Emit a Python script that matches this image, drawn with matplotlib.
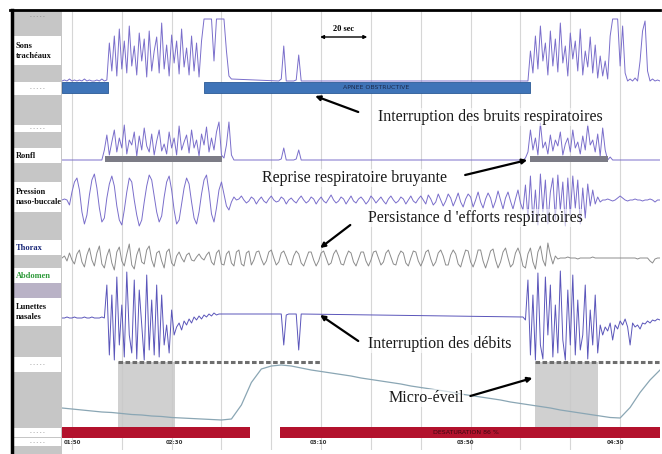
import numpy as np
import matplotlib.pyplot as plt
from matplotlib.lines import Line2D

# one sample per second, time in s ; amplitudes in screen units (up = positive)
sons_starts = [-4, 83, 183]
sons_segments = [
    [0, 1, 0, 2, 0, 1, 0, 1, 0, 2, 0, 1, 0, 0, 1, 0, 2, 0, 1,
     38, 10, 45, 5, 52, 12, 40, 8, 55, 15, 35, 6, 48, 20, 42, 4, 50, 10, 30, 44,
     8, 58, 12, 36, 5, 46, 18, 40, 7, 52, 14, 33, 6, 45, 10, 38, 4,
     40, 62, 62, 62, 62, 20, 62, 62, 62, 62, 30, 5, 2],
    [0, 2, 35, 0, 0, 0, 0, 1, 26, 0],
    [0, 30, 8, 45, 12, 55, 20, 38, 6, 50, 15, 42, 9, 58, 18, 35, 5, 48, 22, 40,
     10, 52, 6, 30, 14, 44, 8, 36, 3, 25, 5, 20, 2, 45, 62, 62, 62, 15, 55, 8,
     0, 2, 0, 3, 0, 20, 50, 60, 10, 0, 2, 0, 1, 0],
]

ronfl_starts = [-4, 83, 181, 236]
ronfl_segments = [
    [0, 0, 0, 0, 0, 0, 0, 0, 0, 0, 0, 0, 0, 0, 0, 0, 0,
     10, 25, 5, 18, 30, 8, 22, 12, 35, 6, 20, 15, 28, 4, 24, 10, 32, 14, 8, 26,
     5, 19, 30, 9, 16, 6, 28, 12, 22, 5, 34, 10, 18, 25, 7, 30, 12, 20, 4, 26,
     15, 33, 8, 22, 10, 28, 38, 5, 2, 15, 38, 5, 0, 0],
    [0, 1, 12, 0, 0, 0, 0, 1, 10, 0],
    [0, 2, 8, 30, 10, 22, 5, 37, 12, 18, 6, 25, 9, 20, 14, 28, 5, 16, 22, 8,
     30, 12, 18, 6, 24, 10, 35, 15, 20, 8, 26, 4, 32, 10, 0, 3, 0, 0, 0, 0, 0],
    [0],
]

pression = [
    0, 1, 0,
    -5, 8, 18, 22, 10, -12, -24, -15, 5, 20, 26, 12, -8, -22, -18, 2, 16, 24, 14, -6,
    -20, -25, -10, 8, 22, 18, 0, -15, -26, -20, -2, 14, 25, 20, 4, -12, -22, -16, 3, 18,
    24, 10, -10, -24, -20, -4, 12, 22, 16, -2, -18, -24, -12, 6, 20, 25, 8, -14, -22, -8,
    10, 18, 6, -6, -10, -2, 3, 0,
    1, 4, 0, -3, -1, 3, 1, -4, 0, 3, -1, -3, 1, 4, 0, -2, -1, 3, 1, -4, 0, 2, -1, -3, 1, 4,
    0, -3, -1, 3, 1, -4, 0, 3, -1, -3, 1, 5, 0, -3, -1, 3, 1, -4, 0, 4, -1, -3, 1, 3,
    0, -4, -1, 4, 1, -3, 0, 3, -1, -4, 1, 4, 0, -3, -1, 3, 1, -4, 0, 4, -1, -3, 1, 4, 0,
    -4, 5, 1, -5, -2, 6, 0, -6, -1, 6, 2, -6, 0, 7, -2, -7, 1, 6, 3, -7,
    0, 8, -2, -8, 1, 7, 2, -8, -1, 9, 0, -9, 2, 8, -1, -9, 1, 10, -3, -10,
    15, -18, 24, -22, 10, -25, 26, -12, 20, -24, 8, 22, -20, 25, -10, 18, -26, 22, -15, 24,
    -8, 20, -24, 12, -18, 16, -6, 10, -4, 3, -2, 0,
    0, 1, 0, -1, 0, 2, 4, 2, 0, -1, 0, 0, 1, 0, 0, -1, 0, 0, 1, 0, -2, 0, 0,
]

thorax = [
    0, 2, -3, 5, -2, -6, 4, 8, -4, -9, 3, 10, -2, -8, 5, 12, -6, -10, 2, 9,
    -5, -12, 6, 11, -3, -8, 4, 14, -7, -11, 3, 10, -4, -6, 8, 12, -2, -9, 5, 7,
    -3, -10, 6, 9, -5, -8, 2, 6, 0, -4, 3, 5, -2, -3, 1, 4, 0, -2, 3, 6,
    -4, -7, 5, 8, -6, -7, 4, 7, -5, -8, 6, 8, -6, -8, 5, 7,
    -7, -2, 6, 7, -1, -7, -3, 6, 8, 0, -7, -4, 5, 7, 1, -6, -7, 2, 7, 4,
    -5, -8, -1, 6, 6, -2, -8, -3, 5, 7, 0, -7, -5, 4, 8, 2, -6, -7, 1, 7,
    5, -4, -8, -1, 6, 6, -3, -8, -2, 6, 7, 0, -7, -4, 5, 8, 1, -6, -7, 2,
    7, 5, -5, -8, 0, 7, 6, -3, -8, -2, 6, 8, -1, -8, -4, 5, 8, 2, -7, -7,
    3, 8, 4, -6, -9, 0, 8, 7, -4, -9, -2, 8, 8, -3, -10, -2, 7, 9, -2, -10,
    -4, 6, 10, 0, -9, -6, 5, 10, 3, -8,
    -10, 4, 10, -4, -11, 6, 12, -2, -8, 15, 3, -6, 2, -1, 0,
    0, 0, 1, 0, 0, 0, -1, 0, 0, 0, 0, 0, 1, 0, 0, 0, 0, 0, 0, 0,
    0, 0, 0, 0, 0, 0, 0, 0, 0, 0, -1, 0, 0, 0, 0, -3, -5, -1, 0, 0,
]

lunettes_starts = [-4, 84, 181]
lunettes_segments = [
    [-3, -3, -2, -3, -3, -2, -3, -3, -3, -2, -3, -3, -2, -3, -3, -3, -2, -3,
     30, -40, 20, -45, 38, -30, 10, -42, 43, -20, -38, 35, -44, 25, -10, -45, 40, -35,
     15, -40, 30, -42, 20, -30, -10, -38, 5, -20,
     -12, -8, -15, -6, -10, -4, -8, -2, -5, -1, -4, 0, -2, 1, -1, 2, 0, 1],
    [1, -30, 0, 1, 1, 1, 1, -35, 1],
    [-2, -5, 35, -40, 20, -45, 42, -30, -44, 38, -20, 30, -42, 10, -38, 44, -25, -45,
     25, -30, 40, -40, 15, -35, -20, 30, -44, 5, -30, 20, -38, -10, -20, -12, -16, -8,
     -25, -10, -14, -6, -10, -4, -12, -30, -8, -12, -10, -14, -8, -9, -6, -8, -5, -6,
     -4, -5],
]

# SpO2 (%), one value every 4 s from -4 s
spo2 = [88.4, 88.2, 88.0, 87.8, 87.6, 87.5, 87.3, 87.1, 87.0, 86.8, 86.7, 86.5,
        86.4, 86.3, 86.2, 86.1, 86.0, 86.2, 89.0, 93.5, 96.2, 96.8, 97.0, 96.8,
        96.4, 96.0, 95.7, 95.4, 95.1, 94.8, 94.4, 94.1, 93.8, 93.5, 93.2, 92.8,
        92.5, 92.2, 91.9, 91.6, 91.2, 90.9, 90.6, 90.3, 90.0, 89.6, 89.3, 89.0,
        88.7, 88.4, 88.0, 87.7, 87.4, 87.1, 86.8, 86.5, 86.4, 88.5, 91.5, 94.0, 96.0]

# scored events (start, end) in s
apnee_start, apnee_end = [-4, 53], [14.5, 184]
ronfl_ev_start, ronfl_ev_end = [13.3, 184], [60.3, 215]
eveil_start, eveil_end = [18.5, 186], [41.4, 211]
eeg_start, eeg_end = [18.5, 186], [99.6, 236]
desat_start, desat_end = [-4, 83.5], [71.5, 236]

time_labels = ["01:50", "02:30", "03:10", "03:50", "04:30"]
time_label_pos = [0, 41, 99, 158, 218]

PURPLE = "#7a6ecb"
SERIF = "Liberation Serif"


def seg_xy(starts, segments):
    ts, vs = [], []
    for t0, seg in zip(starts, segments):
        ts.extend(t0 + np.arange(len(seg)))
        vs.extend(seg)
    return np.array(ts, float), np.array(vs, float)


fig = plt.figure(figsize=(6.62, 4.54), dpi=100)
ax = fig.add_axes([62 / 662, 4 / 454, 598 / 662, 440 / 454])
ax.set_xlim(-4, 236)
ax.set_ylim(450, 10)
ax.axis("off")

for g in np.arange(0, 221, 20):
    ax.axvline(g, color="#d6d6d6", lw=0.8, zorder=0)

# micro-arousal shading
ax.broken_barh([(s, e - s) for s, e in zip(eveil_start, eveil_end)], (362, 66),
               facecolor="#c8c8c8", alpha=0.85, zorder=1)

# traces
t, v = seg_xy(sons_starts, sons_segments)
ax.plot(t, 81 - v, color=PURPLE, lw=0.7, zorder=3)
t, v = seg_xy(ronfl_starts, ronfl_segments)
ax.plot(t, 160 - v, color=PURPLE, lw=0.7, zorder=3)
tp = -4 + np.arange(len(pression))
ax.plot(tp, 200 - np.array(pression), color=PURPLE, lw=0.7, zorder=3)
tt = -4 + np.arange(len(thorax))
ax.plot(tt, 258 - np.array(thorax), color="#8c8c8c", lw=0.7, zorder=3)
t, v = seg_xy(lunettes_starts, lunettes_segments)
ax.plot(t, 315 - v, color="#5a55ba", lw=0.7, zorder=3)
ts = -4 + 4 * np.arange(len(spo2))
ax.plot(ts, 365 + (97 - np.array(spo2)) * 5, color="#8aa6b4", lw=0.9, zorder=3)

# event bars
ax.broken_barh([(s, e - s) for s, e in zip(apnee_start, apnee_end)], (82, 11),
               facecolor="#3f74b8", edgecolor="#2b5a96", lw=0.6, zorder=4)
ax.text(122, 87.5, "APNEE OBSTRUCTIVE", fontsize=4.5, color="#1d2b4d",
        ha="center", va="center", zorder=5)
ax.broken_barh([(s, e - s) for s, e in zip(ronfl_ev_start, ronfl_ev_end)], (156, 6),
               facecolor="#7c7c86", zorder=4)
for s, e in zip(eeg_start, eeg_end):
    ax.plot([s, e], [362, 362], color="#6e6e6e", lw=2.2, ls=(0, (1.5, 0.8)), zorder=4)
ax.broken_barh([(s, e - s) for s, e in zip(desat_start, desat_end)], (427, 11),
               facecolor="#b3122d", zorder=4)
ax.text(158, 432.5, "DESATURATION 86 %", fontsize=4.5, color="#3a0810",
        ha="center", va="center", zorder=5)
for lab, p in zip(time_labels, time_label_pos):
    ax.text(p, 443, lab, fontsize=4, color="#333", fontweight="bold",
            ha="center", va="center")

# 20 s scale
ax.annotate("", xy=(118.5, 37), xytext=(99.6, 37),
            arrowprops=dict(arrowstyle="<|-|>", color="k", lw=1.0, mutation_scale=5,
                            shrinkA=0, shrinkB=0))
ax.text(109, 29, "20 sec", fontsize=6, family=SERIF, fontweight="bold",
        ha="center", va="center")

# annotations
notes = [
    ("Interruption des bruits respiratoires", 122.9, 117, (114.9, 112), (97.6, 96)),
    ("Reprise respiratoire bruyante", 76.3, 178, (157.8, 175), (182.7, 160)),
    ("Persistance d 'efforts respiratoires", 118.9, 218, (111.7, 225), (99.6, 248)),
    ("Interruption des débits", 118.9, 344, (114.9, 341), (99.6, 315)),
    ("Micro-éveil", 126.9, 398, (159.9, 396), (184.8, 378)),
]
for txt, tx, ty, a0, a1 in notes:
    ax.text(tx, ty, txt, fontsize=11.5, family=SERIF, va="center", ha="left",
            color="#1a1a1a", zorder=6,
            bbox=dict(facecolor="white", edgecolor="none", pad=0.5, alpha=0.6))
    ax.annotate("", xy=a1, xytext=a0,
                arrowprops=dict(arrowstyle="-|>", color="k", lw=1.6, mutation_scale=7,
                                shrinkA=0, shrinkB=0), zorder=6)

# left label panel
pan = fig.add_axes([12 / 662, 0, 50 / 662, 444 / 454])
pan.set_xlim(0, 50)
pan.set_ylim(454, 10)
pan.set_xticks([])
pan.set_yticks([])
for s in ["top", "right", "bottom"]:
    pan.spines[s].set_visible(False)
pan.spines["left"].set_linewidth(2.5)
pan.set_facecolor("#c6c6c6")

white_rows = [(36, 65), (82, 95), (125, 132), (148, 163), (182, 212), (240, 255),
              (268, 283), (298, 326), (357, 372), (428, 437), (438, 446)]
for a, b in white_rows:
    pan.axhspan(a, b, xmin=0.03, xmax=0.97, facecolor="white", lw=0)
pan.axhspan(283, 298, xmin=0.03, xmax=0.97, facecolor="#b9b2c6", lw=0)

labels = [("Sons\ntrachéaux", 51, "#111"), ("Ronfl", 156, "#111"),
          ("Pression\nnaso-buccale", 197, "#111"), ("Thorax", 248, "#1c2a7a"),
          ("Abdomen", 276, "#2e9a3a"), ("Lunettes\nnasales", 312, "#111")]
for lab, y, c in labels:
    pan.text(4, y, lab, fontsize=6, family=SERIF, fontweight="bold", color=c,
             va="center", ha="left", linespacing=1.3)
for y in [16, 88.5, 128.5, 364.5, 432.5, 442]:
    pan.text(25, y, "- - - - -", fontsize=3.5, color="#777", ha="center", va="center")

fig.add_artist(Line2D([10 / 662, 660 / 662], [444 / 454, 444 / 454], color="k", lw=2))

fig.savefig("out.png", dpi=100)
